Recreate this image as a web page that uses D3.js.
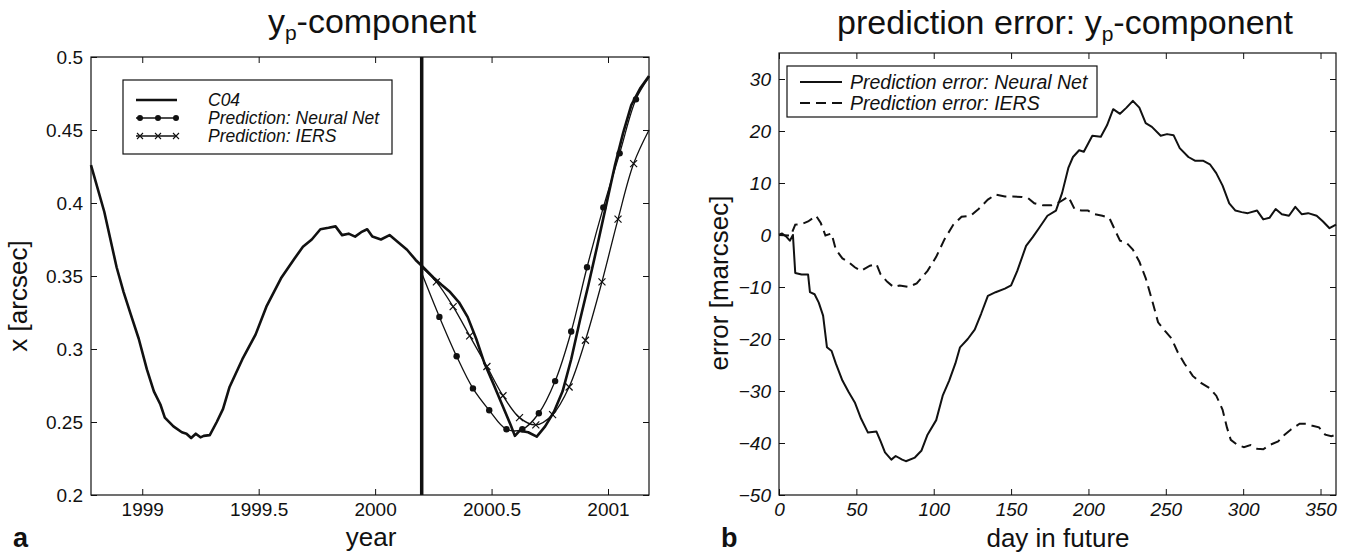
<!DOCTYPE html>
<html>
<head>
<meta charset="utf-8">
<script src="https://cdn.jsdelivr.net/npm/d3@7"></script>
<style>
  body { margin: 0; background: #fff; }
  svg { font-family: "Liberation Sans", Arial, Helvetica, sans-serif; }
</style>
</head>
<body>
<svg id="chart" width="1351" height="553"></svg>
<script>
// ---- panel a: yp component, year vs arcsec ----
var c04 = [
  [1998.78, 0.426], [1998.837, 0.394], [1998.89, 0.356], [1998.92, 0.339], [1998.95, 0.324],
  [1998.985, 0.307], [1999.02, 0.286], [1999.05, 0.271], [1999.078, 0.262], [1999.097, 0.253],
  [1999.134, 0.247], [1999.17, 0.243], [1999.19, 0.242], [1999.21, 0.239], [1999.23, 0.242],
  [1999.25, 0.2395], [1999.264, 0.2405], [1999.29, 0.241], [1999.32, 0.25], [1999.347, 0.259],
  [1999.375, 0.274], [1999.43, 0.293], [1999.487, 0.31], [1999.533, 0.329], [1999.598, 0.349],
  [1999.654, 0.362], [1999.69, 0.37], [1999.728, 0.375], [1999.765, 0.382], [1999.80, 0.383],
  [1999.83, 0.384], [1999.858, 0.378], [1999.886, 0.379], [1999.914, 0.377], [1999.94, 0.380],
  [1999.966, 0.382], [1999.988, 0.377], [2000.025, 0.375], [2000.062, 0.378], [2000.1, 0.373],
  [2000.137, 0.368], [2000.174, 0.361], [2000.2, 0.357], [2000.25, 0.349], [2000.285, 0.344],
  [2000.322, 0.339], [2000.36, 0.332], [2000.397, 0.322], [2000.434, 0.307], [2000.47, 0.290],
  [2000.508, 0.276], [2000.545, 0.262], [2000.582, 0.248], [2000.60, 0.2405], [2000.62, 0.244],
  [2000.657, 0.243], [2000.694, 0.240], [2000.73, 0.247], [2000.768, 0.257], [2000.805, 0.271],
  [2000.842, 0.293], [2000.88, 0.320], [2000.916, 0.344], [2000.953, 0.370], [2000.99, 0.397],
  [2001.03, 0.426], [2001.065, 0.448], [2001.10, 0.467], [2001.14, 0.479], [2001.176, 0.487]
];
var nnPred = [
  [2000.2, 0.352], [2000.276, 0.322], [2000.35, 0.295], [2000.42, 0.273], [2000.49, 0.258],
  [2000.564, 0.245], [2000.632, 0.245], [2000.703, 0.256], [2000.773, 0.278], [2000.842, 0.312],
  [2000.91, 0.356], [2000.98, 0.397], [2001.05, 0.434], [2001.12, 0.471], [2001.176, 0.486]
];
var iersPred = [
  [2000.2, 0.356], [2000.263, 0.346], [2000.335, 0.329], [2000.406, 0.309], [2000.48, 0.288],
  [2000.549, 0.268], [2000.62, 0.253], [2000.69, 0.248], [2000.762, 0.255], [2000.833, 0.274],
  [2000.903, 0.306], [2000.974, 0.346], [2001.043, 0.389], [2001.11, 0.427], [2001.176, 0.45]
];
var predStart = 2000.2;
var yearTicks = [1999, 1999.5, 2000, 2000.5, 2001];
var arcsecTicks = [0.2, 0.25, 0.3, 0.35, 0.4, 0.45, 0.5];

// ---- panel b: prediction error, day vs marcsec ----
var nnError = [
  [0, 0.05], [2, 0.3], [5, -0.4], [7, -1.1], [9, 0], [10.5, -7.3], [14.6, -7.6], [18.8, -7.6],
  [20, -11], [23, -11.4], [25.7, -13], [28.5, -15.5], [31, -21.6], [34, -22.3], [36.7, -24.7],
  [41, -28], [45, -30.2], [49, -32.2], [53, -35.3], [57.5, -38], [63, -37.8], [65.7, -39.7],
  [68.5, -41.8], [72.6, -43.2], [75.4, -42.5], [79.6, -43.2], [82, -43.5], [87.8, -42.8],
  [92, -41.5], [96, -38.4], [101.6, -35.6], [105.8, -30.9], [110, -28], [114, -24.7],
  [117, -21.6], [122, -20], [126.5, -18.2], [130.7, -15.1], [135, -11.7], [140, -11],
  [146, -10.3], [150, -9.7], [154, -6.9], [159.7, -2.1], [164, -0.4], [168, 1.3], [173.5, 3.7],
  [179, 4.7], [183, 8.1], [187, 12.9], [190, 15], [194, 16.3], [197, 16], [200, 17.7],
  [202.5, 19.1], [208, 18.9], [212, 21.1], [216, 24.2], [220.4, 23.3], [224.6, 24.5],
  [228.7, 25.8], [232.9, 24.5], [237, 21.5], [241, 20.8], [246.7, 19.1], [250.8, 19.4],
  [255, 19.2], [259, 16.7], [264.6, 15], [268.8, 14.3], [274, 14.3], [278.5, 13.6],
  [282.6, 11.9], [286.7, 9.5], [291, 6.1], [295, 4.7], [299, 4.4], [303, 4.2], [309, 4.7],
  [313, 3], [317, 3.3], [321, 5], [325, 4], [329.6, 3.7], [333.7, 5.4], [337.8, 4], [342, 4.2],
  [347.5, 3.7], [351.6, 2.6], [355.8, 1.3], [360, 2]
];
var iersError = [
  [0, 0], [7.7, -0.1], [10.5, 2], [14.6, 2.1], [18.8, 2.6], [24, 3.7], [27, 2.3], [30, -0.1],
  [34, 0.3], [36.7, -2.8], [41, -4.5], [45, -5.2], [49, -6.2], [53, -6.9], [58.8, -5.9],
  [63, -5.6], [65.7, -7.6], [70, -9], [74, -10], [78, -9.7], [83.7, -10], [89, -9.3],
  [96, -6.9], [101.6, -4.2], [107, -0.8], [112.7, 2], [118, 3.5], [123.8, 3.7], [129, 5],
  [135, 6.8], [140, 7.8], [146, 7.4], [151, 7.4], [157, 7.3], [161, 7.1], [165, 6.1],
  [170.7, 5.7], [176, 5.7], [181.8, 6.4], [187, 7.4], [191, 5], [195.6, 4.7], [199.7, 4.7],
  [204, 4], [209, 3.7], [213.5, 3.3], [217.7, 0.6], [220.4, -1.1], [224.6, -1.5], [228.7, -2.8],
  [233, -5.2], [237, -8.3], [241, -12.4], [245, -16.8], [249.6, -18.5], [253.7, -19.9],
  [257.8, -22.6], [262, -24.7], [267.4, -27.1], [273, -28.5], [278.5, -29.5], [282.6, -30.9],
  [286.7, -33.6], [289.5, -37], [292, -39.4], [296.4, -40.4], [300.5, -40.8], [304.7, -40.4],
  [309, -41.1], [313, -41.2], [317, -40.4], [322.6, -39.7], [326.8, -38.4], [330.9, -37.4],
  [336.5, -36.3], [340.6, -36.3], [344.8, -36.7], [349, -37], [353, -38.4], [357, -38.7],
  [360, -38.4]
];
var dayTicks = [0, 50, 100, 150, 200, 250, 300, 350];
var errorTicks = [-50, -40, -30, -20, -10, 0, 10, 20, 30];

var svg = d3.select("#chart");
var ink = "#111";

// box with inward ticks on all four sides, labels on left and bottom
function frame(x, y, xTicks, yTicks, xFmt, yFmt, italic) {
  var g = svg.append("g");
  var x0 = x.range()[0], x1 = x.range()[1], y0 = y.range()[0], y1 = y.range()[1];

  g.append("g").attr("transform", `translate(0,${y0})`)
    .call(d3.axisBottom(x).tickValues(xTicks).tickFormat(xFmt).tickSize(-6).tickPadding(8));
  g.append("g").attr("transform", `translate(0,${y1})`)
    .call(d3.axisTop(x).tickValues(xTicks).tickFormat("").tickSize(-6));
  g.append("g").attr("transform", `translate(${x0},0)`)
    .call(d3.axisLeft(y).tickValues(yTicks).tickFormat(yFmt).tickSize(-6).tickPadding(8));
  g.append("g").attr("transform", `translate(${x1},0)`)
    .call(d3.axisRight(y).tickValues(yTicks).tickFormat("").tickSize(-6));

  g.selectAll(".domain").remove();
  g.selectAll(".tick line").attr("stroke", ink).attr("stroke-width", 1);
  g.selectAll(".tick text")
    .attr("fill", ink)
    .style("font-size", "19px")
    .style("font-style", italic ? "italic" : "normal");

  g.append("rect")
    .attr("x", x0).attr("y", y1)
    .attr("width", x1 - x0).attr("height", y0 - y1)
    .attr("fill", "none").attr("stroke", ink).attr("stroke-width", 1.2);
  return g;
}

function title(cx, base, prefix) {
  var t = svg.append("text")
    .attr("x", cx).attr("y", base)
    .attr("text-anchor", "middle")
    .attr("fill", ink)
    .style("font-size", "34px");
  t.append("tspan").text(prefix + "y");
  t.append("tspan").attr("dy", 7).style("font-size", "21px").text("p");
  t.append("tspan").attr("dy", -7).text("-component");
}

function label(x, y, text, rotate) {
  svg.append("text")
    .attr("transform", `translate(${x},${y})` + (rotate ? " rotate(-90)" : ""))
    .attr("text-anchor", "middle")
    .attr("fill", ink)
    .style("font-size", "26px")
    .text(text);
}

// ================= panel a =================
var xa = d3.scaleLinear().domain([1998.78, 2001.176]).range([91, 649]);
var ya = d3.scaleLinear().domain([0.2, 0.5]).range([495, 57]);

frame(xa, ya, yearTicks, arcsecTicks, d3.format(""), d => d3.format("")(d), false);

var lineA = d3.line().x(d => xa(d[0])).y(d => ya(d[1]));
var smoothA = d3.line().x(d => xa(d[0])).y(d => ya(d[1])).curve(d3.curveCatmullRom);

svg.append("path").datum(c04)
  .attr("d", lineA).attr("fill", "none")
  .attr("stroke", ink).attr("stroke-width", 2.6).attr("stroke-linejoin", "round");

svg.append("path").datum(nnPred)
  .attr("d", smoothA).attr("fill", "none")
  .attr("stroke", ink).attr("stroke-width", 1.3);
svg.append("g").selectAll("circle")
  .data(nnPred.slice(1, -1)).join("circle")
  .attr("cx", d => xa(d[0])).attr("cy", d => ya(d[1])).attr("r", 3.2).attr("fill", ink);

svg.append("path").datum(iersPred)
  .attr("d", smoothA).attr("fill", "none")
  .attr("stroke", ink).attr("stroke-width", 1.3);
svg.append("g").selectAll("path")
  .data(iersPred.slice(1, -1)).join("path")
  .attr("transform", d => `translate(${xa(d[0])},${ya(d[1])})`)
  .attr("d", "M-3.5,-3.5L3.5,3.5M-3.5,3.5L3.5,-3.5")
  .attr("stroke", ink).attr("stroke-width", 1.2);

// start of prediction
svg.append("line")
  .attr("x1", xa(predStart)).attr("x2", xa(predStart))
  .attr("y1", ya(0.2)).attr("y2", ya(0.5))
  .attr("stroke", ink).attr("stroke-width", 3.5);

// legend a
var legA = svg.append("g").attr("transform", "translate(123,80)");
legA.append("rect").attr("width", 269).attr("height", 74)
  .attr("fill", "#fff").attr("stroke", ink).attr("stroke-width", 1.2);
var legAItems = ["C04", "Prediction: Neural Net", "Prediction: IERS"];
legAItems.forEach(function (name, i) {
  var yy = 20 + i * 18;
  legA.append("line").attr("x1", 13).attr("x2", 54).attr("y1", yy).attr("y2", yy)
    .attr("stroke", ink).attr("stroke-width", i === 0 ? 2.6 : 1.3);
  [17, 35, 53].forEach(function (mx) {
    if (i === 1) legA.append("circle").attr("cx", mx).attr("cy", yy).attr("r", 3).attr("fill", ink);
    if (i === 2) legA.append("path").attr("transform", `translate(${mx},${yy})`)
      .attr("d", "M-3,-3L3,3M-3,3L3,-3").attr("stroke", ink).attr("stroke-width", 1.1);
  });
  legA.append("text").attr("x", 85).attr("y", yy + 6)
    .attr("fill", ink).style("font-size", "17.5px").style("font-style", "italic")
    .text(name);
});

title(372, 33, "");
label(371, 546, "year", false);
label(27, 296, "x [arcsec]", true);
svg.append("text").attr("x", 13).attr("y", 547).attr("fill", ink)
  .style("font-size", "27px").style("font-weight", "bold").text("a");

// ================= panel b =================
var xb = d3.scaleLinear().domain([0, 360]).range([779, 1336]);
var yb = d3.scaleLinear().domain([-50, 35]).range([495, 53]);

frame(xb, yb, dayTicks, errorTicks, d3.format("d"), d3.format("d"), true);

var lineB = d3.line().x(d => xb(d[0])).y(d => yb(d[1]));

svg.append("path").datum(nnError)
  .attr("d", lineB).attr("fill", "none")
  .attr("stroke", ink).attr("stroke-width", 2).attr("stroke-linejoin", "round");
svg.append("path").datum(iersError)
  .attr("d", lineB).attr("fill", "none")
  .attr("stroke", ink).attr("stroke-width", 2).attr("stroke-dasharray", "10,6");

// legend b
var legB = svg.append("g").attr("transform", "translate(787,66)");
legB.append("rect").attr("width", 310).attr("height", 51)
  .attr("fill", "#fff").attr("stroke", ink).attr("stroke-width", 1.2);
["Prediction error: Neural Net", "Prediction error: IERS"].forEach(function (name, i) {
  var yy = 16 + i * 21;
  legB.append("line").attr("x1", 13).attr("x2", 55).attr("y1", yy).attr("y2", yy)
    .attr("stroke", ink).attr("stroke-width", 2)
    .attr("stroke-dasharray", i === 1 ? "10,6" : null);
  legB.append("text").attr("x", 63).attr("y", yy + 7)
    .attr("fill", ink).style("font-size", "19.5px").style("font-style", "italic")
    .text(name);
});

title(1065, 34, "prediction error: ");
label(1058, 547, "day in future", false);
label(728, 283, "error [marcsec]", true);
svg.append("text").attr("x", 721).attr("y", 547).attr("fill", ink)
  .style("font-size", "27px").style("font-weight", "bold").text("b");
</script>
</body>
</html>
